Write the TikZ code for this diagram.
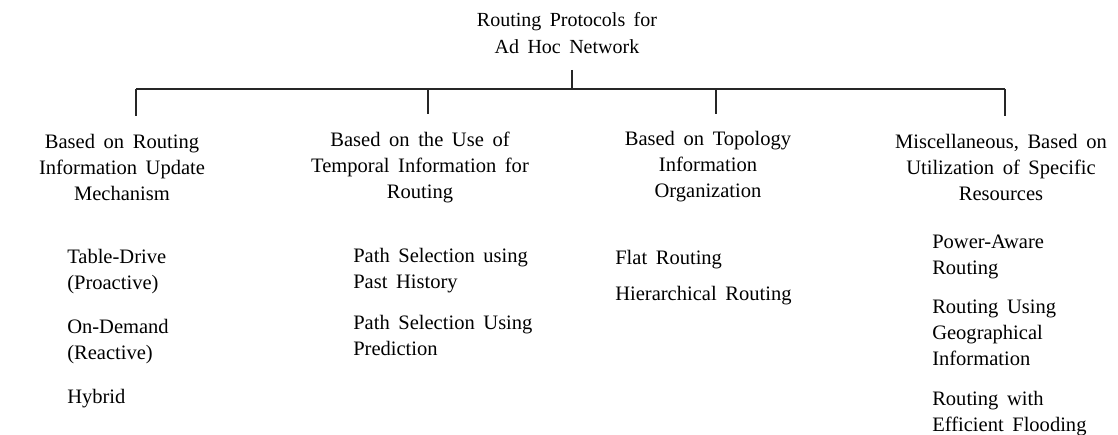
\documentclass[tikz,border=0pt]{standalone}
\usepackage{fontspec}
\setmainfont{Liberation Serif}
\usepackage{tikz}
\usetikzlibrary{positioning}
\newcommand{\treespace}{\spaceskip=0.42em plus 0.1em\relax}
\newcommand{\treefont}{\fontsize{15.4}{19.5}\selectfont\treespace}
\tikzset{
    root box/.style={
        align=center, inner xsep=2pt, inner ysep=12pt,
        font=\fontsize{15}{20.25}\selectfont\treespace
    },
    category/.style={
        align=center, inner xsep=2pt, inner ysep=13pt,
        font=\treefont
    },
    leaf/.style={
        align=left, anchor=west, inner sep=0pt,
        font=\treefont
    },
    tree line/.style={
        line width=0.9pt, color=black!85
    },
}
\begin{document}
\begin{tikzpicture}[x=0.75pt, y=-0.75pt]
    \useasboundingbox (0,0) rectangle (1118,435);

    \node[root box] (root) at (567,33) {Routing Protocols for\\Ad Hoc Network};

    \node[category] (update) at (122,167) {Based on Routing\\Information Update\\Mechanism};
    \node[category] (temporal) at (420,167) {Based on the Use of\\Temporal Information for\\Routing};
    \node[category] (topology) at (708,167) {Based on Topology\\Information\\Organization};
    \node[category] (misc) at (1001,167) {Miscellaneous, Based on\\Utilization of Specific\\Resources};

    \coordinate (bus root) at (572,89);
    \coordinate (bus update) at (136,89);
    \coordinate (bus temporal) at (428,89);
    \coordinate (bus topology) at (716,89);
    \coordinate (bus misc) at (1005,89);

    \draw[tree line] (root.south -| bus root) -- (bus root);
    \draw[tree line] (bus update) -- (bus misc);
    \draw[tree line] (bus update) -- (update.north -| bus update);
    \draw[tree line] (bus temporal) -- (temporal.north -| bus temporal);
    \draw[tree line] (bus topology) -- (topology.north -| bus topology);
    \draw[tree line] (bus misc) -- (misc.north -| bus misc);

    % Leaves
    \node[leaf] (proactive) at (67,272) {Table-Drive\\(Proactive)};
    \node[leaf] (reactive) at (67,342) {On-Demand\\(Reactive)};
    \node[leaf] (hybrid) at (67,399) {Hybrid};

    \node[leaf] (history) at (353,271) {Path Selection using\\Past History};
    \node[leaf] (prediction) at (353,335) {Path Selection Using\\Prediction};

    \node[leaf] (flat) at (615,260) {Flat Routing};
    \node[leaf] (hierarchical) at (615,296) {Hierarchical Routing};

    \node[leaf] (power) at (932,257) {Power-Aware\\Routing};
    \node[leaf] (geo) at (932,333) {Routing Using\\Geographical\\Information};
    \node[leaf] (flooding) at (932,414) {Routing with\\Efficient Flooding};
\end{tikzpicture}
\end{document}
